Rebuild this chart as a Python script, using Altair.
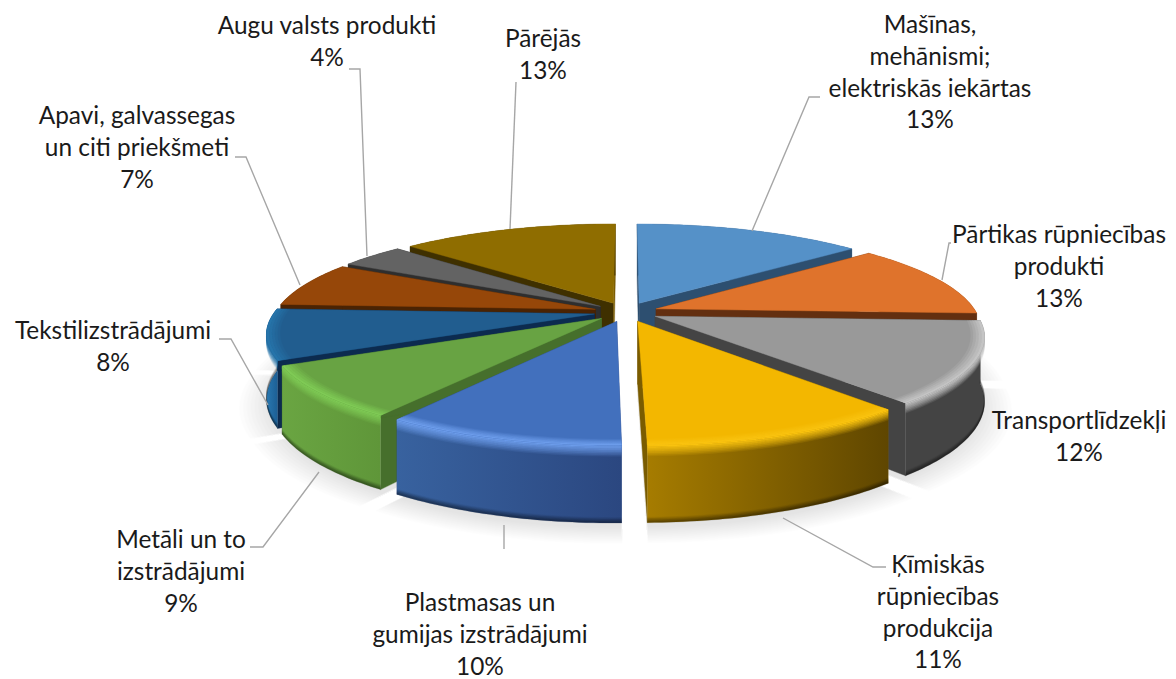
import math
import altair as alt

# ---- data ----
categories = [
    ["Mašīnas,", "mehānismi;", "elektriskās iekārtas"],
    ["Pārtikas rūpniecības", "produkti"],
    ["Transportlīdzekļi"],
    ["Ķīmiskās", "rūpniecības", "produkcija"],
    ["Plastmasas un", "gumijas izstrādājumi"],
    ["Metāli un to", "izstrādājumi"],
    ["Tekstilizstrādājumi"],
    ["Apavi, galvassegas", "un citi priekšmeti"],
    ["Augu valsts produkti"],
    ["Pārējās"],
]
# printed percentages, and the slice sizes as they are drawn in the picture
labels_pct = [13, 13, 12, 11, 10, 9, 8, 7, 4, 13]
shares = [13.75, 11.94, 12.95, 11.08, 9.84, 8.21, 8.06, 7.22, 3.89, 13.06]

# ---- styles ----
top_colors = ["#5591c8", "#df732c", "#999999", "#f3b700", "#4270bd",
              "#68a343", "#215d8f", "#964709", "#636363", "#8f6d00"]
cut_colors = ["#2d4f70", "#632f10", "#444444", "#7a5c00", "#2b4780",
              "#466f2c", "#0c2b4f", "#4a2303", "#2e2e2e", "#3f3000"]
end_cut_colors = ["#2d4f70", "#632f10", "#444444", "#7a5c00", "#2b4780",
                  "#466f2c", "#0c2b4f", "#4a2303", "#2e2e2e", "#7a5c00"]
wall_left = ["#2d4f70", "#632f10", "#444444", "#a67c00", "#38629f",
             "#6aa542", "#2a78b0", "#4a2303", "#2e2e2e", "#3f3000"]
wall_right = ["#2d4f70", "#632f10", "#444444", "#5f4600", "#2b4780",
              "#5f9639", "#1c5f95", "#4a2303", "#2e2e2e", "#3f3000"]
highlights = [None, None, "#c4c4c4", "#f9c310", "#6c9cea", "#7fca55", "#2674aa", None, None, None]
paint_order = [9, 0, 8, 1, 7, 6, 2, 5, 3, 4]
leader_color = "#a6a6a6"

# ---- layout of the tilted, exploded disc (pixels of the page) ----
PAGE = 8
CX, CY = 626, 312
A, B = 320, 97
PERSP = 0.185
EXPLODE = 0.10
DEPTH = 62


def project(u, v, drop=0.0):
    s = 1 / (1 - PERSP * v)
    return [CX + A * u * s - PAGE, CY + B * v * s + DEPTH * s * drop - PAGE]


def slice_frame(i):
    start = sum(shares[:i]) / sum(shares) * 2 * math.pi
    end = sum(shares[: i + 1]) / sum(shares) * 2 * math.pi
    mid = (start + end) / 2
    return start, end, EXPLODE * math.sin(mid), -EXPLODE * math.cos(mid)


def rim(i, drop=0.0, r=1.0):
    start, end, ou, ov = slice_frame(i)
    n = max(2, int(math.degrees(end - start)))
    ts = [start + (end - start) * k / n for k in range(n + 1)]
    return [project(ou + r * math.sin(t), ov - r * math.cos(t), drop) for t in ts]


def apex(i, drop=0.0):
    _, _, ou, ov = slice_frame(i)
    return project(ou, ov, drop)


def poly(points):
    return {"type": "Polygon", "coordinates": [points + [points[0]]]}


parts = []  # (geometry, fill, opacity)

# soft shadow under the disc
for k in range(9):
    for i in range(len(shares)):
        pts = [apex(i, 1.08)] + rim(i, 1.08, 0.99 + 0.011 * k)
        parts.append((poly(pts), "#808080", 0.016))

for i in paint_order:
    r0 = rim(i)
    r1 = rim(i, 1.0)
    a0, a1 = apex(i), apex(i, 1.0)
    # two radial cut walls
    parts.append((poly([a0, r0[0], r1[0], a1]), cut_colors[i], 1))
    parts.append((poly([a0, r0[-1], r1[-1], a1]), end_cut_colors[i], 1))
    # outer wall with a horizontal shading
    grad = {
        "gradient": "linear", "x1": 0, "x2": 1, "y1": 0, "y2": 0,
        "stops": [{"offset": 0, "color": wall_left[i]}, {"offset": 1, "color": wall_right[i]}],
    }
    parts.append((poly(r0 + r1[::-1]), grad, 1))
    # bevel on the wall
    if highlights[i]:
        steps = 7
        for k in range(steps):
            f0, f1 = 0.14 * k / steps, 0.14 * (k + 1) / steps
            parts.append((poly(rim(i, f0) + rim(i, f1)[::-1]), highlights[i], 1 - k / steps))
        for k in range(4):
            f0, f1 = 0.93 + 0.07 * k / 4, 0.93 + 0.07 * (k + 1) / 4
            parts.append((poly(rim(i, f0) + rim(i, f1)[::-1]), "#000000", 0.08 + 0.1 * k))
    # top face
    parts.append((poly([a0] + r0), top_colors[i], 1))
    # bevel on the top face
    if highlights[i]:
        steps = 5
        for k in range(steps):
            ra, rb = 0.96 + 0.04 * k / steps, 0.96 + 0.04 * (k + 1) / steps
            parts.append((poly(rim(i, 0, ra) + rim(i, 0, rb)[::-1]), highlights[i], (k + 1) / steps))

# ---- leader lines ----
leaders = [
    [(752, 231), (809, 97), (820, 97)],
    [(942, 280), (949, 243), (951, 243)],
    [(783, 518), (873, 567), (886, 567)],
    [(504, 525), (504, 549)],
    [(319, 472), (263, 547), (250, 547)],
    [(268, 405), (231, 339), (219, 339)],
    [(300, 285), (246, 157), (235, 157)],
    [(367, 256), (360, 69), (349, 69)],
    [(510, 229), (516, 82)],
]

# ---- label anchor (centre x, first-line centre y), line step ----
label_x = [930, 1059, 1079, 938, 480, 181, 113, 137, 327, 543]
label_y = [26, 236, 422, 566, 604, 541, 332, 117, 27, 40]
LINE = 31.8


def feature(geom, **props):
    return {"type": "Feature", "geometry": geom, "properties": props}


def geo_data(features):
    return alt.Data(values={"type": "FeatureCollection", "features": features},
                    format=alt.DataFormat(type="json", property="features"))


layers = []
run = []


def flush():
    global run
    if run:
        layers.append(
            alt.Chart(geo_data(run)).mark_geoshape(strokeWidth=0.4).encode(
                fill=alt.Fill("properties.c:N", scale=None),
                stroke=alt.Stroke("properties.c:N", scale=None),
                opacity=alt.Opacity("properties.o:Q", scale=None),
            )
        )
        run = []


for geom, fill, op in parts:
    if isinstance(fill, str):
        run.append(feature(geom, c=fill, o=op))
    else:
        flush()
        layers.append(alt.Chart(geo_data([feature(geom)])).mark_geoshape(fill=fill, strokeWidth=0))
flush()

line_feats = [
    feature({"type": "LineString", "coordinates": [[x - PAGE, y - PAGE] for x, y in pts]})
    for pts in leaders
]
layers.append(
    alt.Chart(geo_data(line_feats)).mark_geoshape(
        filled=False, stroke=leader_color, strokeWidth=1.4, fill=None
    )
)

rows = []
for i, lines in enumerate(categories):
    all_lines = lines + [f"{labels_pct[i]}%"]
    for j, t in enumerate(all_lines):
        rows.append({"t": t, "lon": label_x[i] - PAGE, "lat": label_y[i] + j * LINE - PAGE})

layers.append(
    alt.Chart(alt.Data(values=rows)).mark_text(
        font="Lato", fontSize=24.4, color="#1a1a1a", align="center", baseline="middle"
    ).encode(longitude="lon:Q", latitude="lat:Q", text="t:N")
)

chart = (
    alt.layer(*layers)
    .project(type="identity", scale=1, translate=[0, 0])
    .properties(width=1160, height=671, padding=0, autosize=alt.AutoSizeParams(type="none"))
    .configure_view(stroke=None)
)
chart.save("out.html", embed_options={"renderer": "svg", "actions": False})
